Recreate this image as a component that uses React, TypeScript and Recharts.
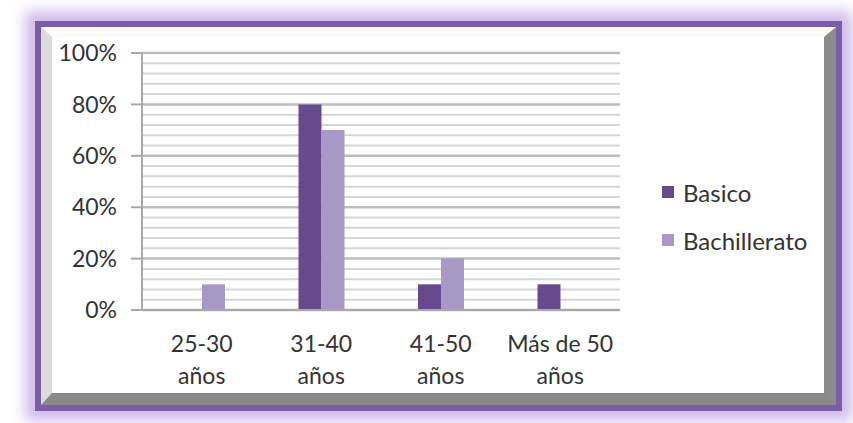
import React from 'react';
import { BarChart, Bar, XAxis, YAxis, CartesianGrid } from 'recharts';

const categories = ['25-30 años', '31-40 años', '41-50 años', 'Más de 50 años'];
const basico = [0, 80, 10, 10];
const bachillerato = [10, 70, 20, 0];
const yTicks = [0, 20, 40, 60, 80, 100];
const minorTicks = [4, 8, 12, 16, 24, 28, 32, 36, 44, 48, 52, 56, 64, 68, 72, 76, 84, 88, 92, 96];

const series = [
  { key: 'basico', name: 'Basico', color: '#674a8e' },
  { key: 'bachillerato', name: 'Bachillerato', color: '#a898c6' },
];

const data = categories.map((name, i) => ({
  name,
  basico: basico[i],
  bachillerato: bachillerato[i],
}));

const FONT = 'Lato, "Open Sans", sans-serif';

// two-line category label, break before the last word
function CategoryTick({ x, y, payload }: any) {
  const label: string = payload.value;
  const cut = label.lastIndexOf(' ');
  const lines = [label.slice(0, cut), label.slice(cut + 1)];
  return (
    <text x={x} y={y} textAnchor="middle" fill="#333" fontSize={23} fontFamily={FONT}>
      <tspan x={x} dy={42}>{lines[0]}</tspan>
      <tspan x={x} dy={32}>{lines[1]}</tspan>
    </text>
  );
}

// minor grid lines through the y axis scale
const minorLines = ({ yAxis, offset }: any) =>
  minorTicks.map((v) =>
    yAxis && typeof yAxis.scale === 'function'
      ? yAxis.scale(v)
      : offset.top + offset.height * (1 - v / 100)
  );

export default function App() {
  return (
    <div style={{ position: 'absolute', left: 0, top: 0, width: 853, height: 423, background: '#fff', overflow: 'hidden' }}>
      {/* purple frame with glow and bevel */}
      <div
        style={{
          position: 'absolute',
          left: 35,
          top: 21,
          width: 807,
          height: 390,
          boxSizing: 'border-box',
          border: '6px solid #7a5ca9',
          boxShadow: '0 0 13px 10px #d0bbec',
          background: '#fff',
        }}
      >
        <div
          style={{
            position: 'absolute',
            inset: 0,
            boxSizing: 'border-box',
            borderTop: '10px solid #fafafa',
            borderLeft: '11px solid #d9dcd8',
            borderRight: '12px solid #8b8c8a',
            borderBottom: '12px solid #898a88',
          }}
        />
      </div>
      <div style={{ position: 'absolute', left: 0, top: 0 }}>
        <BarChart
          width={853}
          height={423}
          data={data}
          margin={{ top: 53, right: 233, bottom: 43, left: 82 }}
          barGap={0}
          barSize={23}
        >
          <CartesianGrid
            vertical={false}
            horizontalCoordinatesGenerator={minorLines}
            stroke="#d6d6d6"
            strokeWidth={2}
          />
          <CartesianGrid vertical={false} stroke="#bdbdbd" strokeWidth={2.5} />
          <XAxis
            dataKey="name"
            height={70}
            tick={<CategoryTick />}
            tickLine={false}
            tickSize={0}
            tickMargin={0}
            axisLine={{ stroke: '#a8a8a8', strokeWidth: 2 }}
            interval={0}
          />
          <YAxis
            width={60}
            domain={[0, 100]}
            ticks={yTicks}
            tickFormatter={(v: number) => `${v}%`}
            tickSize={11}
            tickMargin={14}
            tick={{ fill: '#333', fontSize: 23, fontFamily: FONT }}
            tickLine={{ stroke: '#a8a8a8', strokeWidth: 2 }}
            axisLine={{ stroke: '#a8a8a8', strokeWidth: 2 }}
          />
          {series.map((s) => (
            <Bar key={s.key} dataKey={s.key} name={s.name} fill={s.color} isAnimationActive={false} />
          ))}
        </BarChart>
      </div>
      {/* legend */}
      <div style={{ position: 'absolute', left: 662, top: 168, fontFamily: FONT, fontSize: 24, color: '#333' }}>
        {series.map((s) => (
          <div key={s.key} style={{ display: 'flex', alignItems: 'center', height: 48 }}>
            <span style={{ width: 12, height: 12, background: s.color, marginRight: 9, display: 'inline-block' }} />
            <span>{s.name}</span>
          </div>
        ))}
      </div>
    </div>
  );
}
